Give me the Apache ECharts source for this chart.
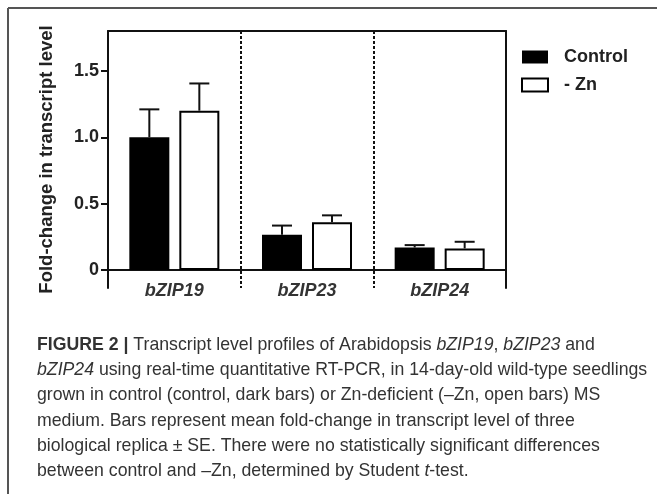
<!DOCTYPE html>
<html>
<head>
<meta charset="utf-8">
<script src="https://cdn.jsdelivr.net/npm/echarts@6/dist/echarts.min.js"></script>
<style>
  html, body { margin: 0; padding: 0; background: #fff; }
  #chart { width: 657px; height: 494px; }
</style>
</head>
<body>
<div id="chart"></div>
<script>
// data
var genes = ['bZIP19', 'bZIP23', 'bZIP24']
var controlMean = [1.0, 0.265, 0.17]
var controlSE = [0.21, 0.07, 0.018]
var znMean = [1.2, 0.36, 0.163]
var znSE = [0.205, 0.052, 0.05]
var yTicks = [0, 0.5, 1.0, 1.5]

var BAR_W = 40
var BAR_OFF = 25 // half of bar width + half gap

var chart = echarts.init(document.getElementById('chart'))

function errorSeries (name, mean, se, offset) {
  return {
    name: name + ' SE',
    type: 'custom',
    z: 5,
    silent: true,
    data: mean.map(function (m, i) { return [i, m, se[i]] }),
    renderItem: function (params, api) {
      var i = api.value(0)
      var v = api.value(1)
      var e = api.value(2)
      var p0 = api.coord([i, v])
      var p1 = api.coord([i, v + e])
      var x = p0[0] + offset
      var style = { stroke: '#111', lineWidth: 2 }
      return {
        type: 'group',
        children: [
          { type: 'line', shape: { x1: x, y1: p0[1], x2: x, y2: p1[1] }, style: style },
          { type: 'line', shape: { x1: x - 10, y1: p1[1], x2: x + 10, y2: p1[1] }, style: style }
        ]
      }
    }
  }
}

var capFont = 'Liberation Sans, Arial, sans-serif'
var capLines = [
  [['b', 'FIGURE 2 | '], ['n', 'Transcript level profiles of Arabidopsis '], ['i', 'bZIP19'], ['n', ', '], ['i', 'bZIP23'], ['n', ' and']],
  [['i', 'bZIP24'], ['n', ' using real-time quantitative RT-PCR, in 14-day-old wild-type seedlings']],
  [['n', 'grown in control (control, dark bars) or Zn-deficient (\u2013Zn, open bars) MS']],
  [['n', 'medium. Bars represent mean fold-change in transcript level of three']],
  [['n', 'biological replica \u00b1 SE. There were no statistically significant differences']],
  [['n', 'between control and \u2013Zn, determined by Student '], ['i', 't'], ['n', '-test.']]
]

var graphics = [
  { type: 'line', shape: { x1: 8, y1: 8, x2: 657, y2: 8 }, style: { stroke: '#555', lineWidth: 2 } },
  { type: 'line', shape: { x1: 8, y1: 8, x2: 8, y2: 494 }, style: { stroke: '#555', lineWidth: 2 } }
]
capLines.forEach(function (line, k) {
  graphics.push({
    type: 'text',
    left: 37,
    top: 336 + k * 25.3,
    style: {
      text: line.map(function (s) { return '{' + s[0] + '|' + s[1] + '}' }).join(''),
      rich: {
        n: { fontFamily: capFont, fontSize: 17.7, fill: '#333', fontWeight: 'normal' },
        b: { fontFamily: capFont, fontSize: 17.7, fill: '#333', fontWeight: 'bold' },
        i: { fontFamily: capFont, fontSize: 17.7, fill: '#333', fontStyle: 'italic' }
      }
    }
  })
})

var labelFont = 'Liberation Sans, Arial, sans-serif'

var option = {
  animation: false,
  grid: { left: 108, right: 151, top: 31, bottom: 206 },
  legend: {
    orient: 'vertical',
    left: 521,
    top: 48,
    padding: 0,
    itemWidth: 26,
    itemHeight: 13,
    itemGap: 10,
    selectedMode: false,
    textStyle: { fontFamily: labelFont, fontWeight: 'bold', fontSize: 18, color: '#222', padding: [0, 0, 0, 11] },
    data: [
      { name: 'Control', icon: 'rect', itemStyle: { color: '#000', borderWidth: 0 } },
      { name: '- Zn', icon: 'rect', itemStyle: { color: '#fff', borderColor: '#000', borderWidth: 2 } }
    ]
  },
  xAxis: [
    {
      type: 'category',
      data: genes,
      axisLine: { onZero: true, lineStyle: { color: '#111', width: 2 } },
      axisTick: { show: false },
      axisLabel: { fontFamily: labelFont, fontWeight: 'bold', fontStyle: 'italic', fontSize: 18, color: '#333', margin: -6 },
      splitLine: { show: true, lineStyle: { color: '#111', width: 2, type: [3, 2] } }
    },
    {
      type: 'category',
      data: genes,
      position: 'top',
      axisLine: { onZero: false, lineStyle: { color: '#111', width: 2 } },
      axisTick: { show: false },
      axisLabel: { show: false },
      splitLine: { show: false }
    }
  ],
  yAxis: [
    {
      type: 'value',
      min: -0.135,
      max: 1.8,
      name: 'Fold-change in transcript level',
      nameLocation: 'middle',
      nameRotate: 90,
      nameGap: 52,
      nameTextStyle: { fontFamily: labelFont, fontWeight: 'bold', fontSize: 18.5, color: '#222' },
      axisLine: { show: true, lineStyle: { color: '#111', width: 2 } },
      axisTick: { show: true, length: 7, customValues: yTicks, lineStyle: { color: '#111', width: 2 } },
      axisLabel: {
        customValues: yTicks,
        margin: 9,
        fontFamily: labelFont,
        fontWeight: 'bold',
        fontSize: 18,
        color: '#222',
        formatter: function (v) {
          var n = Number(v)
          return Math.abs(n) < 1e-9 ? '0' : n.toFixed(1)
        }
      },
      splitLine: { show: false }
    },
    {
      type: 'value',
      min: -0.135,
      max: 1.8,
      position: 'right',
      axisLine: { show: true, lineStyle: { color: '#111', width: 2 } },
      axisTick: { show: false },
      axisLabel: { show: false },
      splitLine: { show: false }
    }
  ],
  series: [
    {
      name: 'Control',
      type: 'bar',
      barWidth: BAR_W,
      barGap: '25%',
      itemStyle: { color: '#000' },
      data: controlMean
    },
    {
      name: '- Zn',
      type: 'bar',
      barWidth: BAR_W,
      barGap: '25%',
      itemStyle: { color: '#fff', borderColor: '#000', borderWidth: 2 },
      data: znMean
    },
    errorSeries('Control', controlMean, controlSE, -BAR_OFF),
    errorSeries('- Zn', znMean, znSE, BAR_OFF)
  ],
  graphic: graphics
}

chart.setOption(option)
</script>
</body>
</html>
